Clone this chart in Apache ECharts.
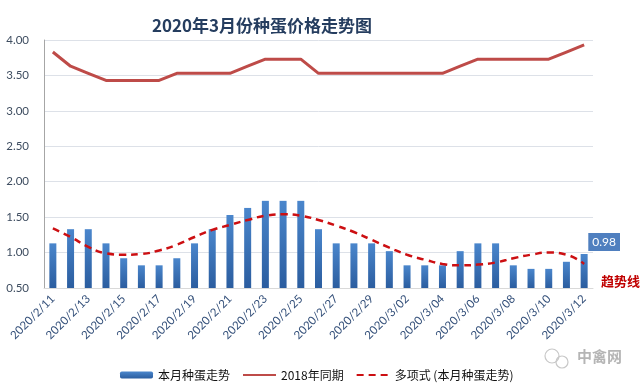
<!DOCTYPE html>
<html><head><meta charset="utf-8">
<script src="https://cdn.jsdelivr.net/npm/echarts@6/dist/echarts.min.js"></script>
<style>html,body{margin:0;padding:0;background:#fff}#c{width:643px;height:390px}</style>
</head><body><div id="c"></div>
<script>
const categories = ["2020/2/11","2020/2/12","2020/2/13","2020/2/14","2020/2/15","2020/2/16","2020/2/17","2020/2/18","2020/2/19","2020/2/20","2020/2/21","2020/2/22","2020/2/23","2020/2/24","2020/2/25","2020/2/26","2020/2/27","2020/2/28","2020/2/29","2020/3/01","2020/3/02","2020/3/03","2020/3/04","2020/3/05","2020/3/06","2020/3/07","2020/3/08","2020/3/09","2020/3/10","2020/3/11","2020/3/12"];
const currentPrices = [1.13,1.33,1.33,1.13,0.92,0.82,0.82,0.92,1.13,1.33,1.53,1.63,1.73,1.73,1.73,1.33,1.13,1.13,1.13,1.02,0.82,0.82,0.82,1.02,1.13,1.13,0.82,0.77,0.77,0.87,0.98];
const prices2018 = [3.83,3.63,3.53,3.43,3.43,3.43,3.43,3.53,3.53,3.53,3.53,3.63,3.73,3.73,3.73,3.53,3.53,3.53,3.53,3.53,3.53,3.53,3.53,3.63,3.73,3.73,3.73,3.73,3.73,3.83,3.93];
const trendValues = [1.34,1.22,1.08,0.99,0.97,0.98,1.03,1.11,1.22,1.32,1.39,1.46,1.52,1.54,1.52,1.46,1.38,1.29,1.18,1.07,0.97,0.90,0.84,0.82,0.83,0.86,0.92,0.97,1.00,0.97,0.84];
const seriesNames = ["本月种蛋走势","2018年同期","多项式 (本月种蛋走势)"];
const titleText = "2020年3月份种蛋价格走势图";

const chart = echarts.init(document.getElementById('c'), null, {renderer:'canvas'});
const lastIdx = currentPrices.length - 1;
const barData = currentPrices.map((v,i)=> i===lastIdx ? {value:v,label:{show:true,position:'top',offset:[20,2],formatter:p=>p.value.toFixed(2),color:'#fff',backgroundColor:'#4f7fbf',padding:[3,4,3,4],fontFamily:'Lato',fontSize:12}} : v);
const barGrad = new echarts.graphic.LinearGradient(0,0,0,1,[{offset:0,color:'#4a86cc'},{offset:1,color:'#2b5d9f'}]);
chart.setOption({
  animation:false,
  backgroundColor:'#fff',
  title:{text:titleText,left:257,textAlign:'center',top:12,textStyle:{fontFamily:'Noto Sans CJK SC',fontWeight:'bold',fontSize:17,color:'#253d5f'}},
  grid:{left:44,right:50,top:40,bottom:102},
  legend:{left:115,top:364,itemWidth:33,itemHeight:7,itemGap:12,textStyle:{fontFamily:'Noto Sans CJK SC',fontSize:12,color:'#111'},
    data:[{name:seriesNames[0]},{name:seriesNames[1],itemStyle:{opacity:0}},{name:seriesNames[2],itemStyle:{opacity:0}}]},
  xAxis:{type:'category',data:categories,boundaryGap:true,
    axisLine:{lineStyle:{color:'#d9d9d9'}},axisTick:{show:false},
    axisLabel:{interval:1,rotate:45,margin:9,fontFamily:'Lato',fontSize:11.5,color:'#34507a'}},
  yAxis:{type:'value',min:0.5,max:4,interval:0.5,
    axisLine:{show:true,lineStyle:{color:'#a6a6a6'}},axisTick:{show:false},
    splitLine:{lineStyle:{color:'#dde1e8'}},
    axisLabel:{formatter:v=>v.toFixed(2),margin:15,fontFamily:'Lato',fontSize:11.5,color:'#3e4d60'}},
  series:[
    {name:seriesNames[0],type:'bar',data:barData,barWidth:7,itemStyle:{color:barGrad}},
    {name:seriesNames[1],type:'line',data:prices2018,symbol:'none',lineStyle:{color:'#be4b48',width:3},itemStyle:{color:'#be4b48'}},
    {name:seriesNames[2],type:'line',data:trendValues,symbol:'none',smooth:true,lineStyle:{color:'#cc0f12',width:2.5,type:[7,5]},itemStyle:{color:'#cc0f12'}}
  ],
  graphic:[
    {type:'text',left:601,top:275,style:{text:'趋势线',fill:'#c00000',font:'bold 13px "Noto Sans CJK SC"'}},
    {type:'text',left:577,top:349,style:{text:'中禽网',fill:'#b5b5b5',font:'bold 15px "Noto Sans CJK SC"'}},
    {type:'circle',shape:{cx:552,cy:356,r:7},style:{fill:'none',stroke:'#c8c8c8',lineWidth:1.2}},
    {type:'circle',shape:{cx:562,cy:362,r:6},style:{fill:'none',stroke:'#c8c8c8',lineWidth:1.2}}
  ]
});
</script></body></html>
